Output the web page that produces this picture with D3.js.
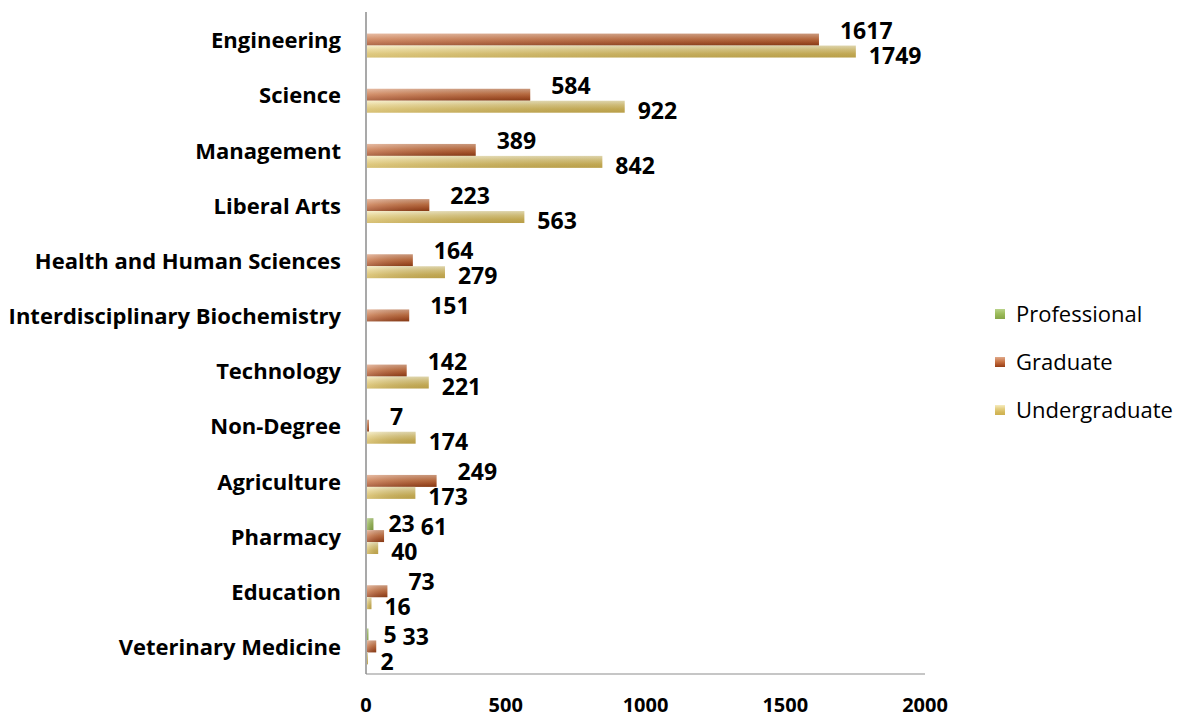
<!DOCTYPE html>
<html>
<head>
<meta charset="utf-8">
<script src="https://cdn.jsdelivr.net/npm/d3@7"></script>
<style>
  body { margin: 0; background: #fff; }
  text { font-family: "Open Sans", Lato, sans-serif; fill: #000; }
</style>
</head>
<body>
<div id="chart"></div>
<script>
const width = 1186
const height = 719

/* categories, top to bottom */
const colleges = ['Engineering', 'Science', 'Management', 'Liberal Arts', 'Health and Human Sciences',
    'Interdisciplinary Biochemistry', 'Technology', 'Non-Degree', 'Agriculture', 'Pharmacy',
    'Education', 'Veterinary Medicine']
const levels = ['Professional', 'Graduate', 'Undergraduate']

/* series values (null = no bar) */
const professional = [null, null, null, null, null, null, null, null, null, 23, null, 5]
const graduate = [1617, 584, 389, 223, 164, 151, 142, 7, 249, 61, 73, 33]
const undergraduate = [1749, 922, 842, 563, 279, null, 221, 174, 173, 40, 16, 2]

const xTicks = [0, 500, 1000, 1500, 2000]

const series = { Professional: professional, Graduate: graduate, Undergraduate: undergraduate }

/* flatten to one row per bar */
const rows = []
colleges.forEach((c, i) => {
    levels.forEach(l => {
        const v = series[l][i]
        if (v !== null) rows.push({ college: c, level: l, value: v })
    })
})

/* scales */
const x = d3.scaleLinear().domain([0, 2000]).range([366, 925])
const y = d3.scaleBand().domain(colleges).range([12, 674]).paddingInner(0.35).paddingOuter(0.175)
const ySub = d3.scaleBand().domain(levels).range([0, y.bandwidth()])

const svg = d3.select('#chart').append('svg').attr('width', width).attr('height', height)

/* gradients */
const defs = svg.append('defs')
function grad(id, stops) {
    const g = defs.append('linearGradient').attr('id', id)
        .attr('x1', 0).attr('y1', 0).attr('x2', 0).attr('y2', 1)
    stops.forEach(s => g.append('stop').attr('offset', s[0]).attr('stop-color', s[1]))
}
grad('g-Professional', [[0, '#b9d38a'], [0.5, '#9bbb59'], [1, '#86a548']])
grad('g-Graduate', [[0, '#e0a98a'], [0.45, '#c97546'], [0.75, '#b0552a'], [1, '#943f16']])
grad('g-Undergraduate', [[0, '#f6ecbf'], [0.35, '#e5d085'], [0.7, '#d6ba5c'], [1, '#cdb050']])

/* sheen: lighter on the left */
const sheen = defs.append('linearGradient').attr('id', 'sheen')
    .attr('x1', 0).attr('y1', 0).attr('x2', 1).attr('y2', 0)
sheen.append('stop').attr('offset', 0).attr('stop-color', '#fff').attr('stop-opacity', 0.22)
sheen.append('stop').attr('offset', 1).attr('stop-color', '#000').attr('stop-opacity', 0.1)

/* axes lines */
svg.append('line')
    .attr('x1', x(0)).attr('x2', x(2000)).attr('y1', 674).attr('y2', 674)
    .attr('stroke', '#b3b3b3').attr('stroke-width', 1.5)
svg.append('line')
    .attr('x1', x(0)).attr('x2', x(0)).attr('y1', 12).attr('y2', 674)
    .attr('stroke', '#8c8c8c').attr('stroke-width', 1.5)

/* bars */
const barY = d => y(d.college) + ySub(d.level)
svg.append('g').selectAll('rect.bar')
    .data(rows)
    .join('rect')
    .attr('class', 'bar')
    .attr('x', x(0) + 1)
    .attr('y', barY)
    .attr('width', d => Math.max(1, x(d.value) - x(0)))
    .attr('height', ySub.bandwidth())
    .attr('fill', d => `url(#g-${d.level})`)

svg.append('g').selectAll('rect.sheen')
    .data(rows)
    .join('rect')
    .attr('class', 'sheen')
    .attr('x', x(0) + 1)
    .attr('y', barY)
    .attr('width', d => Math.max(1, x(d.value) - x(0)))
    .attr('height', ySub.bandwidth())
    .attr('fill', 'url(#sheen)')

/* value labels */
const labelDx = { Professional: 16, Graduate: 22, Undergraduate: 14 }
const labelDy = { Professional: 0, Graduate: -9, Undergraduate: 4 }
const labels = svg.append('g').selectAll('text')
    .data(rows)
    .join('text')
    .attr('x', d => x(d.value) + labelDx[d.level])
    .attr('y', d => barY(d) + ySub.bandwidth() / 2 + labelDy[d.level])
    .attr('dy', '0.35em')
    .attr('font-size', 23)
    .attr('font-weight', 'bold')
    .text(d => d.value)

/* keep a graduate label clear of the professional label beside it */
const profRight = {}
labels.filter(d => d.level === 'Professional').each(function (d) {
    const b = this.getBBox()
    profRight[d.college] = b.x + b.width
})
labels.filter(d => d.level === 'Graduate' && profRight[d.college] !== undefined)
    .attr('x', function (d) { return Math.max(+d3.select(this).attr('x'), profRight[d.college] + 6) })

/* category labels */
svg.append('g').selectAll('text')
    .data(colleges)
    .join('text')
    .attr('x', 341)
    .attr('y', d => y(d) + y.bandwidth() / 2 + 1)
    .attr('dy', '0.35em')
    .attr('text-anchor', 'end')
    .attr('font-size', 22)
    .attr('font-weight', 'bold')
    .text(d => d)

/* x tick labels */
svg.append('g').selectAll('text')
    .data(xTicks)
    .join('text')
    .attr('x', d => x(d))
    .attr('y', 705)
    .attr('dy', '0.35em')
    .attr('text-anchor', 'middle')
    .attr('font-size', 20)
    .attr('font-weight', 'bold')
    .text(d => d)

/* legend */
const legend = svg.append('g').selectAll('g')
    .data(levels)
    .join('g')
    .attr('transform', (d, i) => `translate(995, ${314 + i * 48})`)
legend.append('rect')
    .attr('x', 0).attr('y', -5).attr('width', 10).attr('height', 10)
    .attr('fill', d => `url(#g-${d})`)
legend.append('text')
    .attr('x', 21)
    .attr('dy', '0.35em')
    .attr('font-size', 22)
    .text(d => d)
</script>
</body>
</html>
